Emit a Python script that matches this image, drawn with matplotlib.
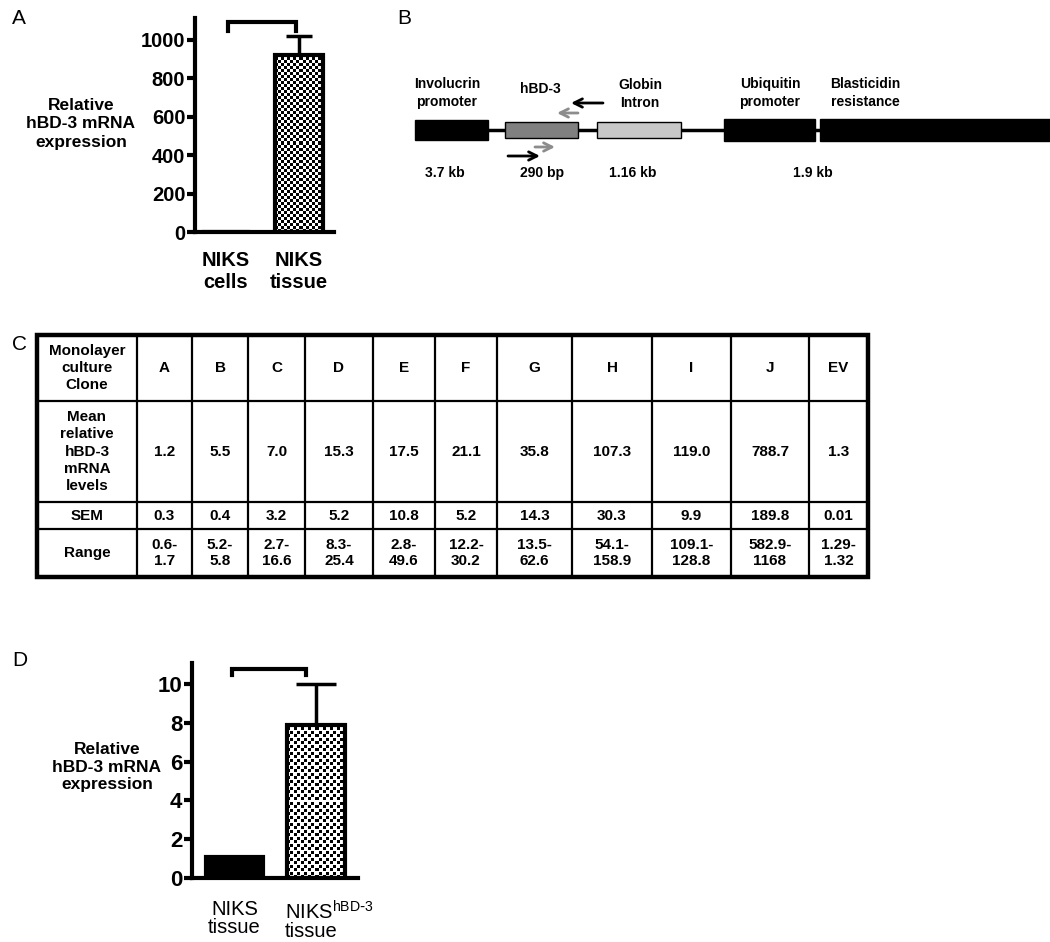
import matplotlib

matplotlib.use("Agg")
import matplotlib.pyplot as plt
import numpy as np
from matplotlib.patches import Rectangle
from matplotlib.transforms import ScaledTranslation

plt.rcParams["font.family"] = ["Liberation Sans", "DejaVu Sans"]
plt.rcParams["mathtext.default"] = "regular"

# --- datos ---
a_groups = ["NIKS\ncells", "NIKS\ntissue"]
a_means = [1.0, 922.0]
a_err = [0.0, 98.0]

d_groups = ["NIKS\ntissue", r"NIKS$^{hBD\text{-}3}$" + "\ntissue"]
d_means = [1.08, 7.9]
d_err = [0.0, 2.1]

ylabel = "Relative\nhBD-3 mRNA\nexpression"

# construct (panel B)
parts = ["Involucrin\npromoter", "hBD-3", "Globin\nIntron", "Ubiquitin\npromoter", "Blasticidin\nresistance"]
part_colors = ["black", "#808080", "#c8c8c8", "black", "black"]
part_sizes = ["3.7 kb", "290 bp", "1.16 kb", "", "1.9 kb"]

# table (panel C)
clones = ["A", "B", "C", "D", "E", "F", "G", "H", "I", "J", "EV"]
row_names = ["Monolayer\nculture\nClone", "Mean\nrelative\nhBD-3\nmRNA\nlevels", "SEM", "Range"]
mean_levels = ["1.2", "5.5", "7.0", "15.3", "17.5", "21.1", "35.8", "107.3", "119.0", "788.7", "1.3"]
sem = ["0.3", "0.4", "3.2", "5.2", "10.8", "5.2", "14.3", "30.3", "9.9", "189.8", "0.01"]
ranges = ["0.6-\n1.7", "5.2-\n5.8", "2.7-\n16.6", "8.3-\n25.4", "2.8-\n49.6", "12.2-\n30.2",
          "13.5-\n62.6", "54.1-\n158.9", "109.1-\n128.8", "582.9-\n1168", "1.29-\n1.32"]

W, H = 1050, 942
fig = plt.figure(figsize=(W / 100, H / 100), dpi=100)


def px_axes(l, t, r, b):
    return fig.add_axes([l / W, 1 - b / H, (r - l) / W, (b - t) / H])


# capa para texto/diagrama en pixeles
over = fig.add_axes([0, 0, 1, 1], zorder=-1)
over.set_xlim(0, W)
over.set_ylim(H, 0)
over.axis("off")


def texture(ax, bar, kind):
    x0, y0 = bar.get_x(), bar.get_y()
    x1, y1 = x0 + bar.get_width(), y0 + bar.get_height()
    p0 = ax.transData.transform((x0, y0))
    p1 = ax.transData.transform((x1, y1))
    nx, ny = int(abs(p1[0] - p0[0])), int(abs(p1[1] - p0[1]))
    j, i = np.meshgrid(np.arange(nx), np.arange(ny))
    if kind == "checker":
        arr = ((i // 3 + j // 3) % 2).astype(float)
    else:
        a = ((i % 7) < 3) & ((j % 7) < 3)
        b = (((i + 4) % 7) < 3) & (((j + 4) % 7) < 3)
        arr = (a | b).astype(float)
    im = ax.imshow(arr, extent=(x0, x1, y0, y1), cmap="gray_r", vmin=0, vmax=1,
                   interpolation="nearest", aspect="auto", origin="lower", zorder=2)
    im.set_clip_path(bar)


def bar_panel(ax, groups, means, errs, ylim, yticks, xlim, width, kinds, capsize,
              bracket, tick_fs, lab_fs, lab_weight, lab_ls, lab_pad):
    x = np.arange(len(groups))
    bars = ax.bar(x, means, width=width, color="white", edgecolor="black", linewidth=3, zorder=3)
    bars[0].set_facecolor("black")
    ax.set_xlim(*xlim)
    ax.set_ylim(*ylim)
    ax.errorbar(x, means, yerr=[np.zeros(len(errs)), errs], fmt="none", ecolor="black",
                elinewidth=2.5, capsize=capsize, capthick=2.5, zorder=2)
    for b, k in zip(bars, kinds):
        if k:
            b.set_facecolor("none")
            texture(ax, b, k)
    for s in ["top", "right"]:
        ax.spines[s].set_visible(False)
    for s in ["left", "bottom"]:
        ax.spines[s].set_linewidth(3)
    ax.set_yticks(yticks)
    ax.tick_params(axis="y", length=6, width=3, labelsize=tick_fs, pad=1)
    for t in ax.get_yticklabels():
        t.set_fontweight("bold")
    ax.set_xticks(x)
    ax.set_xticklabels(groups, fontsize=lab_fs, fontweight=lab_weight, linespacing=lab_ls)
    ax.tick_params(axis="x", length=0, pad=lab_pad)
    bx0, bx1, by0, by1 = bracket
    ax.plot([bx0, bx0, bx1, bx1], [by0, by1, by1, by0], color="black", lw=3,
            clip_on=False, solid_joinstyle="miter")
    return ax


# --- Panel A ---
axA = px_axes(195, 18, 334, 232)
bar_panel(axA, a_groups, a_means, a_err, (0, 1114), [0, 200, 400, 600, 800, 1000],
          (-0.425, 1.48), 0.66, [None, "checker"], 9.5, (0.03, 0.96, 1047, 1094),
          14.5, 14.5, "bold", 1.15, 14)
over.text(81, 124, ylabel, ha="center", va="center", fontsize=12.5, fontweight="bold",
          linespacing=1.25)

# --- Panel D ---
axD = px_axes(192, 663, 358, 878)
bar_panel(axD, d_groups, d_means, d_err, (0, 11.08), [0, 2, 4, 6, 8, 10],
          (-0.52, 1.515), 0.7, [None, "dots"], 14.5, (-0.03, 0.88, 10.46, 10.77),
          16, 14.5, "normal", 0.9, 16)
labs = axD.get_xticklabels()
labs[1].set_ha("left")
labs[1].set_multialignment("left")
labs[1].set_transform(labs[1].get_transform() + ScaledTranslation(-0.31, 0, fig.dpi_scale_trans))
over.text(107, 767, ylabel, ha="center", va="center", fontsize=12.5, fontweight="bold",
          linespacing=1.25)

# --- Panel labels ---
for lab, (px, py) in zip("ABCD", [(12, 18), (397, 18), (12, 345), (12, 660)]):
    over.text(px, py, lab, fontsize=15, ha="left", va="center")

# --- Panel B: construct ---
bx = [(415, 488), (505, 578), (597, 681), (724, 815), (820, 1050)]
bh = [20, 16, 16, 22, 22]
yl = 130
over.plot([416, 1050], [yl, yl], color="black", lw=2.5, zorder=1, solid_capstyle="butt")
for (l, r), h, c in zip(bx, bh, part_colors):
    over.add_patch(Rectangle((l, yl - h / 2), r - l, h, facecolor=c, edgecolor="black",
                             lw=1, zorder=2))
name_xy = [(447, 93), (540, 89), (640, 94), (770, 93), (865, 93)]
for name, (tx, ty) in zip(parts, name_xy):
    over.text(tx, ty, name, ha="center", va="center", fontsize=10, fontweight="bold",
              linespacing=1.35)
size_x = [445, 542, 633, None, 813]
for s, sx in zip(part_sizes, size_x):
    if s:
        over.text(sx, 173, s, ha="center", va="center", fontsize=10, fontweight="bold")
# primers
arrows = [((603, 103), (571, 103), "black"), ((578, 113), (557, 113), "#8c8c8c"),
          ((535, 147), (555, 147), "#8c8c8c"), ((508, 156), (540, 156), "black")]
for (x0, y0), (x1, y1), c in arrows:
    over.annotate("", xy=(x1, y1), xytext=(x0, y0),
                  arrowprops=dict(arrowstyle="->,head_length=0.6,head_width=0.3",
                                  color=c, lw=2, shrinkA=0, shrinkB=0))

# --- Panel C: table ---
cols = [37, 137, 192, 248, 305, 373, 435, 497, 572, 652, 731, 809, 868]
rows = [335, 401, 502, 529, 577]
for cx in cols[1:-1]:
    over.plot([cx, cx], [rows[0], rows[-1]], color="black", lw=1.6)
for ry in rows[1:-1]:
    over.plot([cols[0], cols[-1]], [ry, ry], color="black", lw=1.6)
over.add_patch(Rectangle((cols[0], rows[0]), cols[-1] - cols[0], rows[-1] - rows[0],
                         facecolor="none", edgecolor="black", lw=3.2))
table = [clones, mean_levels, sem, ranges]
for r, (rname, vals) in enumerate(zip(row_names, table)):
    cy = (rows[r] + rows[r + 1]) / 2
    over.text((cols[0] + cols[1]) / 2, cy, rname, ha="center", va="center", fontsize=11,
              fontweight="bold", linespacing=1.3)
    for c, v in enumerate(vals):
        cx = (cols[c + 1] + cols[c + 2]) / 2
        over.text(cx, cy, v, ha="center", va="center", fontsize=11, fontweight="bold",
                  linespacing=1.2)

fig.savefig("out.png", dpi=100)
